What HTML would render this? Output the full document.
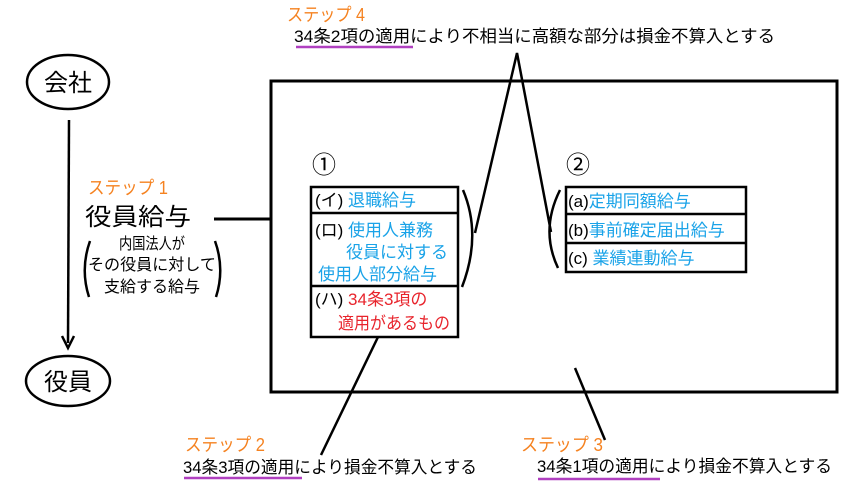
<!DOCTYPE html>
<html><head><meta charset="utf-8"><style>
html,body{margin:0;padding:0;background:#fff;}
svg{display:block;}
text{font-family:"Liberation Sans","Noto Sans CJK JP",sans-serif;}
</style></head><body>
<svg width="848" height="496" viewBox="0 0 848 496" xmlns="http://www.w3.org/2000/svg">
<rect x="0" y="0" width="848" height="496" fill="#fff"/>
<rect x="271" y="81" width="566" height="311" fill="none" stroke="#000" stroke-width="3"/>
<ellipse cx="68" cy="82" rx="41" ry="27" fill="#fff" stroke="#000" stroke-width="2.5"/>
<text x="68" y="91" font-size="24" text-anchor="middle">会社</text>
<ellipse cx="68" cy="381" rx="42" ry="25" fill="#fff" stroke="#000" stroke-width="2.5"/>
<text x="68" y="390" font-size="24" text-anchor="middle">役員</text>
<line x1="69" y1="120" x2="68" y2="343" stroke="#000" stroke-width="2.5"/>
<polyline points="62,336 68,348 74,336" fill="none" stroke="#000" stroke-width="2.5"/>
<text x="88" y="194" font-size="18" fill="#f58220" textLength="80" lengthAdjust="spacingAndGlyphs">ステップ 1</text>
<text x="85" y="225" font-size="24" textLength="106" lengthAdjust="spacingAndGlyphs">役員給与</text>
<line x1="214" y1="219" x2="271" y2="219" stroke="#000" stroke-width="3"/>
<text x="152" y="249" font-size="16" text-anchor="middle" textLength="66" lengthAdjust="spacingAndGlyphs">内国法人が</text>
<text x="152" y="270" font-size="16" text-anchor="middle" textLength="128" lengthAdjust="spacingAndGlyphs">その役員に対して</text>
<text x="152" y="292" font-size="16" text-anchor="middle" textLength="96" lengthAdjust="spacingAndGlyphs">支給する給与</text>
<path d="M90,241 Q80,269 89,297" fill="none" stroke="#000" stroke-width="2.5"/>
<path d="M215,241 Q225,269 216,297" fill="none" stroke="#000" stroke-width="2.5"/>
<text x="312" y="173" font-size="24">①</text>
<text x="566" y="173" font-size="24">②</text>
<rect x="311" y="187" width="147" height="150" fill="#fff" stroke="#000" stroke-width="2.5"/>
<line x1="311" y1="213" x2="458" y2="213" stroke="#000" stroke-width="2.5"/>
<line x1="311" y1="286" x2="458" y2="286" stroke="#000" stroke-width="2.5"/>
<text x="315" y="206" font-size="17"><tspan fill="#000">(イ) </tspan><tspan fill="#1aa3e8">退職給与</tspan></text>
<text x="315" y="236" font-size="17"><tspan fill="#000">(ロ) </tspan><tspan fill="#1aa3e8">使用人兼務</tspan></text>
<text x="346" y="258" font-size="17" fill="#1aa3e8">役員に対する</text>
<text x="318" y="280" font-size="17" fill="#1aa3e8">使用人部分給与</text>
<text x="315" y="305" font-size="17"><tspan fill="#000">(ハ) </tspan><tspan fill="#e8242c">34条3項の</tspan></text>
<text x="338" y="329" font-size="17" fill="#e8242c" textLength="112" lengthAdjust="spacingAndGlyphs">適用があるもの</text>
<rect x="566" y="187" width="180" height="85" fill="#fff" stroke="#000" stroke-width="2.5"/>
<line x1="566" y1="214" x2="746" y2="214" stroke="#000" stroke-width="2.5"/>
<line x1="566" y1="243" x2="746" y2="243" stroke="#000" stroke-width="2.5"/>
<text x="568" y="207" font-size="17"><tspan fill="#000">(a)</tspan><tspan fill="#1aa3e8">定期同額給与</tspan></text>
<text x="568" y="236" font-size="17"><tspan fill="#000">(b)</tspan><tspan fill="#1aa3e8">事前確定届出給与</tspan></text>
<text x="568" y="264" font-size="17"><tspan fill="#000">(c) </tspan><tspan fill="#1aa3e8">業績連動給与</tspan></text>
<polyline points="475,233 517,53 551,232" fill="none" stroke="#000" stroke-width="2.5"/>
<path d="M463,190 Q482,235 462,287" fill="none" stroke="#000" stroke-width="2.5"/>
<path d="M560,190 Q540,230 558,268" fill="none" stroke="#000" stroke-width="2.5"/>
<text x="287" y="21" font-size="18" fill="#f58220" textLength="78" lengthAdjust="spacingAndGlyphs">ステップ 4</text>
<text x="294" y="42" font-size="17" textLength="481" lengthAdjust="spacingAndGlyphs">34条2項の適用により不相当に高額な部分は損金不算入とする</text>
<line x1="296" y1="47" x2="413" y2="47" stroke="#b040c0" stroke-width="2.5"/>
<line x1="378" y1="337" x2="321" y2="455" stroke="#000" stroke-width="2.5"/>
<text x="185" y="451" font-size="18" fill="#f58220" textLength="80" lengthAdjust="spacingAndGlyphs">ステップ 2</text>
<text x="183" y="473" font-size="17" textLength="294" lengthAdjust="spacingAndGlyphs">34条3項の適用により損金不算入とする</text>
<line x1="184" y1="478" x2="302" y2="478" stroke="#b040c0" stroke-width="2.5"/>
<line x1="575" y1="368" x2="605" y2="440" stroke="#000" stroke-width="2.5"/>
<text x="521" y="451" font-size="18" fill="#f58220" textLength="82" lengthAdjust="spacingAndGlyphs">ステップ 3</text>
<text x="537" y="472" font-size="17" textLength="295" lengthAdjust="spacingAndGlyphs">34条1項の適用により損金不算入とする</text>
<line x1="538" y1="479" x2="660" y2="479" stroke="#b040c0" stroke-width="2.5"/>
</svg>
</body></html>
